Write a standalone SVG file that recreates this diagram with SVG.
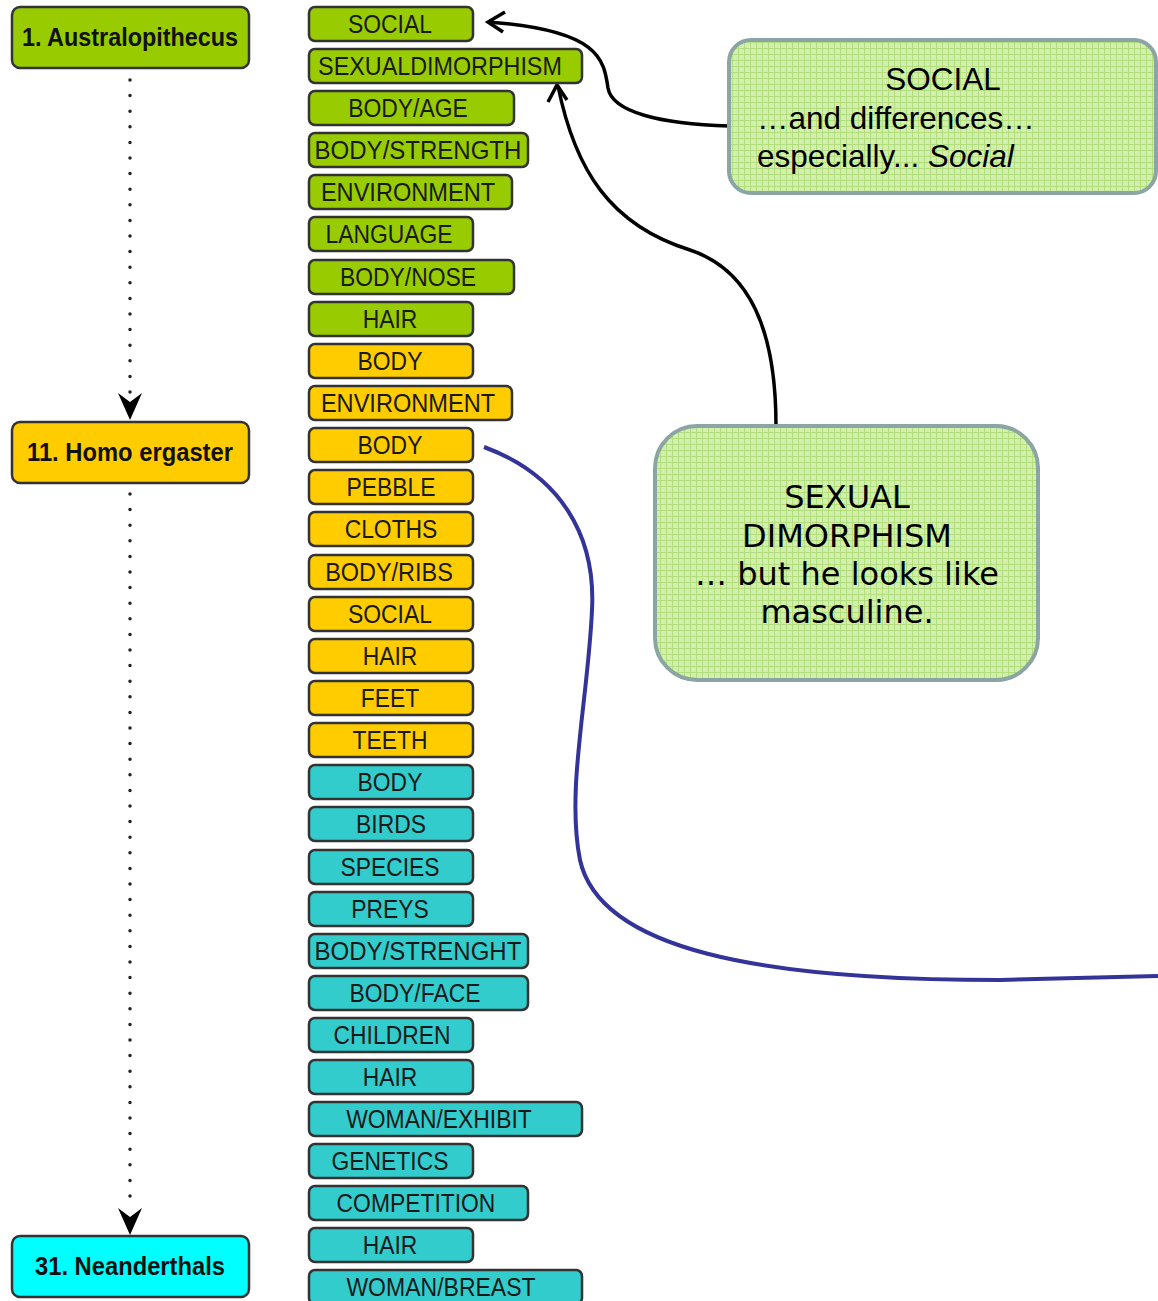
<svg xmlns="http://www.w3.org/2000/svg" width="1158" height="1301" viewBox="0 0 1158 1301">
<defs>
<pattern id="grid" width="6" height="6" patternUnits="userSpaceOnUse">
<rect width="6" height="6" fill="#d3efae"/>
<path d="M0 0.5H6M0.5 0V6" stroke="#b3de7e" stroke-width="1"/>
</pattern>
</defs>
<style>
.main rect{stroke:#333;stroke-width:2.5}
.main text{font-family:"Liberation Sans",Arial,sans-serif;font-weight:bold;font-size:25px;fill:#111;text-anchor:middle}
.tag rect{stroke:#333;stroke-width:2.5}
.tag text{font-family:"Liberation Sans",Arial,sans-serif;font-size:26px;fill:#1a1a1a;text-anchor:middle;transform-box:fill-box;transform-origin:center;transform:scaleX(0.88)}
.g rect{fill:#99cc00}
.o rect{fill:#ffcc00}
.c rect{fill:#33cccc}
.call rect{fill:url(#grid);stroke:#8ba4a4;stroke-width:4}
.dots{stroke:#222;stroke-width:3.5;stroke-linecap:round;stroke-dasharray:0 15.6;fill:none}
.blk{stroke:#000;stroke-width:3.5;fill:none}
</style>

<g id="connectors">
<path class="dots" d="M130,80 V394"/>
<path d="M118,393 L130,402 L142,393 L130,420 Z" fill="#000"/>
<path class="dots" d="M130,494 V1208"/>
<path d="M118,1208 L130,1217 L142,1208 L130,1235 Z" fill="#000"/>
<path class="blk" d="M729,126 C 660,124 612,112 608,88 C 604,60 600,30 488,22"/>
<path class="blk" d="M505,12 L488,22 L503,32"/>
<path class="blk" d="M776,426 C 776,330 750,270 690,250 C 610,225 575,170 558,86"/>
<path class="blk" d="M548,102 L557,85 L567,100"/>
<path d="M484,447 C 560,475 596,535 592,610 C 588,700 566,790 580,860 C 600,950 760,980 1000,980 L 1158,976" fill="none" stroke="#333399" stroke-width="4"/>
</g>

<g id="n1" class="main g"><rect x="12" y="7" width="237" height="61" rx="8"/><text x="130" y="46" textLength="216" lengthAdjust="spacingAndGlyphs">1. Australopithecus</text></g>
<g id="n11" class="main o"><rect x="12" y="422" width="237" height="61" rx="8"/><text x="130" y="461" textLength="206" lengthAdjust="spacingAndGlyphs">11. Homo ergaster</text></g>
<g id="n31" class="main" ><rect x="12" y="1236" width="237" height="61" rx="8" fill="#00ffff"/><text x="130" y="1275" textLength="190" lengthAdjust="spacingAndGlyphs">31. Neanderthals</text></g>

<g id="t1" class="tag g"><rect x="309" y="7" width="164" height="34" rx="6"/><text x="390" y="33">SOCIAL</text></g>
<g id="t2" class="tag g"><rect x="309" y="49" width="273" height="34" rx="6"/><text x="440" y="75" textLength="277" lengthAdjust="spacingAndGlyphs">SEXUALDIMORPHISM</text></g>
<g id="t3" class="tag g"><rect x="309" y="91" width="205" height="34" rx="6"/><text x="408" y="117">BODY/AGE</text></g>
<g id="t4" class="tag g"><rect x="309" y="133" width="219" height="34" rx="6"/><text x="418" y="159" textLength="235" lengthAdjust="spacingAndGlyphs">BODY/STRENGTH</text></g>
<g id="t5" class="tag g"><rect x="309" y="175" width="203" height="34" rx="6"/><text x="408" y="201" textLength="198" lengthAdjust="spacingAndGlyphs">ENVIRONMENT</text></g>
<g id="t6" class="tag g"><rect x="309" y="217" width="164" height="34" rx="6"/><text x="389" y="243">LANGUAGE</text></g>
<g id="t7" class="tag g"><rect x="309" y="260" width="205" height="34" rx="6"/><text x="408" y="286">BODY/NOSE</text></g>
<g id="t8" class="tag g"><rect x="309" y="302" width="164" height="34" rx="6"/><text x="390" y="328">HAIR</text></g>
<g id="t9" class="tag o"><rect x="309" y="344" width="164" height="34" rx="6"/><text x="390" y="370">BODY</text></g>
<g id="t10" class="tag o"><rect x="309" y="386" width="203" height="34" rx="6"/><text x="408" y="412" textLength="198" lengthAdjust="spacingAndGlyphs">ENVIRONMENT</text></g>
<g id="t11" class="tag o"><rect x="309" y="428" width="164" height="34" rx="6"/><text x="390" y="454">BODY</text></g>
<g id="t12" class="tag o"><rect x="309" y="470" width="164" height="34" rx="6"/><text x="391" y="496">PEBBLE</text></g>
<g id="t13" class="tag o"><rect x="309" y="512" width="164" height="34" rx="6"/><text x="391" y="538">CLOTHS</text></g>
<g id="t14" class="tag o"><rect x="309" y="555" width="164" height="34" rx="6"/><text x="389" y="581" textLength="145" lengthAdjust="spacingAndGlyphs">BODY/RIBS</text></g>
<g id="t15" class="tag o"><rect x="309" y="597" width="164" height="34" rx="6"/><text x="390" y="623">SOCIAL</text></g>
<g id="t16" class="tag o"><rect x="309" y="639" width="164" height="34" rx="6"/><text x="390" y="665">HAIR</text></g>
<g id="t17" class="tag o"><rect x="309" y="681" width="164" height="34" rx="6"/><text x="390" y="707">FEET</text></g>
<g id="t18" class="tag o"><rect x="309" y="723" width="164" height="34" rx="6"/><text x="390" y="749">TEETH</text></g>
<g id="t19" class="tag c"><rect x="309" y="765" width="164" height="34" rx="6"/><text x="390" y="791">BODY</text></g>
<g id="t20" class="tag c"><rect x="309" y="807" width="164" height="34" rx="6"/><text x="391" y="833">BIRDS</text></g>
<g id="t21" class="tag c"><rect x="309" y="850" width="164" height="34" rx="6"/><text x="390" y="876">SPECIES</text></g>
<g id="t22" class="tag c"><rect x="309" y="892" width="164" height="34" rx="6"/><text x="390" y="918">PREYS</text></g>
<g id="t23" class="tag c"><rect x="309" y="934" width="219" height="34" rx="6"/><text x="418" y="960" textLength="235" lengthAdjust="spacingAndGlyphs">BODY/STRENGHT</text></g>
<g id="t24" class="tag c"><rect x="309" y="976" width="219" height="34" rx="6"/><text x="415" y="1002">BODY/FACE</text></g>
<g id="t25" class="tag c"><rect x="309" y="1018" width="164" height="34" rx="6"/><text x="392" y="1044">CHILDREN</text></g>
<g id="t26" class="tag c"><rect x="309" y="1060" width="164" height="34" rx="6"/><text x="390" y="1086">HAIR</text></g>
<g id="t27" class="tag c"><rect x="309" y="1102" width="273" height="34" rx="6"/><text x="439" y="1128" textLength="211" lengthAdjust="spacingAndGlyphs">WOMAN/EXHIBIT</text></g>
<g id="t28" class="tag c"><rect x="309" y="1144" width="164" height="34" rx="6"/><text x="390" y="1170">GENETICS</text></g>
<g id="t29" class="tag c"><rect x="309" y="1186" width="219" height="34" rx="6"/><text x="416" y="1212">COMPETITION</text></g>
<g id="t30" class="tag c"><rect x="309" y="1228" width="164" height="34" rx="6"/><text x="390" y="1254">HAIR</text></g>
<g id="t31" class="tag c"><rect x="309" y="1270" width="273" height="34" rx="6"/><text x="441" y="1296" textLength="215" lengthAdjust="spacingAndGlyphs">WOMAN/BREAST</text></g>

<g id="callout1" class="call"><rect x="729" y="40" width="427" height="153" rx="22"/>
<text font-family="'Liberation Sans',Arial,sans-serif" font-size="31.5" fill="#000"><tspan x="943" y="90" text-anchor="middle">SOCIAL</tspan><tspan x="757" y="129">…and differences…</tspan><tspan x="757" y="167">especially... <tspan font-style="italic">Social</tspan></tspan></text>
</g>
<g id="callout2" class="call"><rect x="655" y="426" width="383" height="254" rx="42"/>
<text font-family="'DejaVu Sans',Verdana,sans-serif" font-size="32" fill="#000" text-anchor="middle"><tspan x="847" y="508">SEXUAL</tspan><tspan x="847" y="547">DIMORPHISM</tspan><tspan x="847" y="585">… but he looks like</tspan><tspan x="847" y="623">masculine.</tspan></text>
</g>
</svg>
